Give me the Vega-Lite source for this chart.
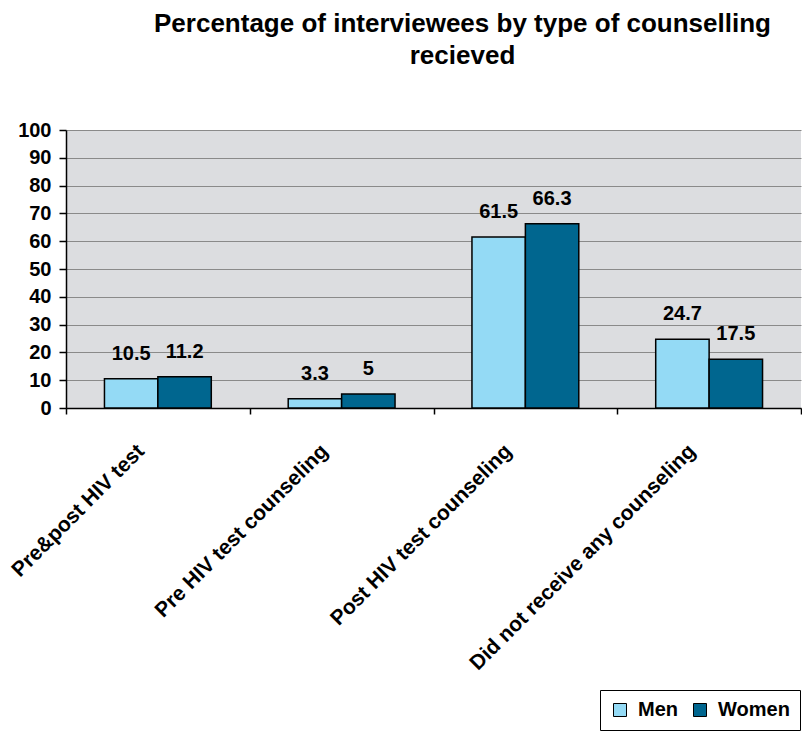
{
  "$schema": "https://vega.github.io/schema/vega-lite/v6.json",
  "width": 735,
  "height": 278,
  "autosize": {"type": "none"},
  "padding": {"left": 66, "top": 130, "right": 1, "bottom": 325},
  "background": "white",
  "title": {
    "text": ["Percentage of interviewees by type of counselling", "recieved"],
    "font": "Liberation Sans",
    "fontSize": 26,
    "fontWeight": "bold",
    "color": "black",
    "anchor": "middle",
    "dx": 29,
    "offset": 51,
    "lineHeight": 32
  },
  "config": {
    "view": {"fill": "#dcdde0", "stroke": null}
  },
  "data": {
    "values": [
      {"category": "Pre&post HIV test", "sex": "Men", "value": 10.5},
      {"category": "Pre&post HIV test", "sex": "Women", "value": 11.2},
      {"category": "Pre HIV test counseling", "sex": "Men", "value": 3.3},
      {"category": "Pre HIV test counseling", "sex": "Women", "value": 5},
      {"category": "Post HIV test counseling", "sex": "Men", "value": 61.5},
      {"category": "Post HIV test counseling", "sex": "Women", "value": 66.3},
      {"category": "Did not receive any counseling", "sex": "Men", "value": 24.7},
      {"category": "Did not receive any counseling", "sex": "Women", "value": 17.5}
    ]
  },
  "encoding": {
    "x": {
      "field": "category",
      "type": "nominal",
      "sort": null,
      "scale": {"paddingInner": 0, "paddingOuter": 0},
      "axis": {
        "title": null,
        "labelAngle": -45,
        "labelAlign": "right",
        "labelBaseline": "top",
        "labelFont": "Liberation Sans",
        "labelFontWeight": "bold",
        "labelFontSize": 21,
        "labelColor": "black",
        "labelOffset": -25,
        "labelPadding": 26,
        "labelLimit": 400,
        "tickBand": "extent",
        "tickColor": "black",
        "tickSize": 6,
        "tickWidth": 1.5,
        "domainColor": "black",
        "domainWidth": 1.5,
        "grid": false
      }
    },
    "xOffset": {
      "field": "sex",
      "sort": ["Men", "Women"],
      "scale": {"paddingInner": 0, "paddingOuter": 0.72}
    },
    "y": {
      "field": "value",
      "type": "quantitative",
      "scale": {"domain": [0, 100]},
      "axis": {
        "title": null,
        "values": [0, 10, 20, 30, 40, 50, 60, 70, 80, 90, 100],
        "grid": true,
        "gridColor": "#8a8a8a",
        "gridWidth": 1.2,
        "domainColor": "black",
        "domainWidth": 1.5,
        "tickColor": "black",
        "tickSize": 7,
        "tickWidth": 1.5,
        "labelPadding": 8,
        "labelFont": "Liberation Sans",
        "labelFontWeight": "bold",
        "labelFontSize": 20,
        "labelColor": "black"
      }
    }
  },
  "layer": [
    {
      "mark": {"type": "bar", "stroke": "black", "strokeWidth": 1.5},
      "encoding": {
        "fill": {
          "field": "sex",
          "type": "nominal",
          "scale": {"domain": ["Men", "Women"], "range": ["#94daf5", "#00668f"]},
          "legend": {
            "title": null,
            "orient": "none",
            "direction": "horizontal",
            "legendX": 534,
            "legendY": 560,
            "strokeColor": "black",
            "fillColor": "white",
            "padding": 10,
            "symbolType": "square",
            "symbolSize": 169,
            "symbolStrokeColor": "black",
            "symbolStrokeWidth": 1,
            "symbolOpacity": 1,
            "labelFont": "Liberation Sans",
            "labelFontWeight": "bold",
            "labelFontSize": 20,
            "labelColor": "black",
            "labelOffset": 8,
            "columnPadding": 12
          }
        }
      }
    },
    {
      "mark": {
        "type": "text",
        "baseline": "alphabetic",
        "dy": -19,
        "font": "Liberation Sans",
        "fontWeight": "bold",
        "fontSize": 20,
        "color": "black"
      },
      "encoding": {"text": {"field": "value", "type": "nominal"}}
    }
  ]
}
